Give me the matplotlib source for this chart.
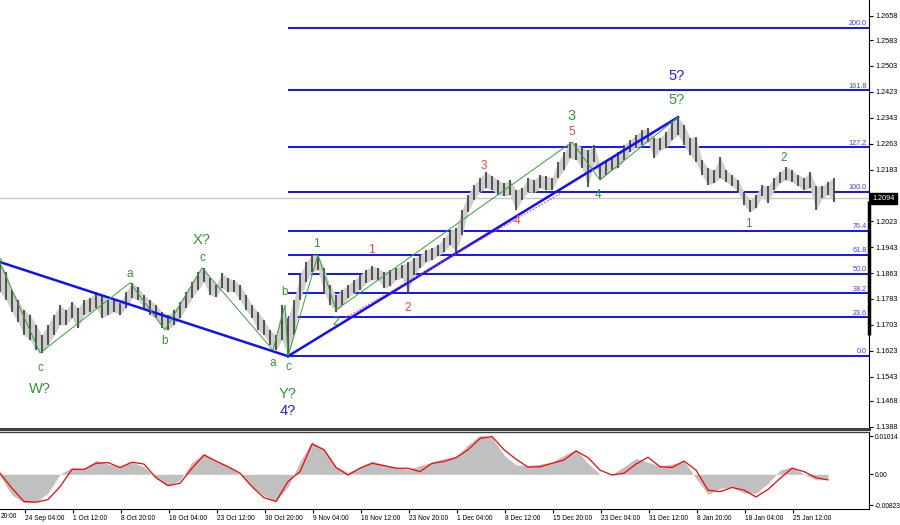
import matplotlib
matplotlib.use("Agg")
import matplotlib.pyplot as plt
import matplotlib.transforms as mtransforms

# one price bar per 4 H4 candles (x unit = one H4 candle)
BAR_STEP = 4
bar_high = [
    1.1894, 1.1867, 1.1811, 1.1780, 1.1749, 1.1734, 1.1703, 1.1672, 1.1703, 1.1734,
    1.1764, 1.1749, 1.1774, 1.1755, 1.1780, 1.1786, 1.1805, 1.1795, 1.1780, 1.1780,
    1.1771, 1.1805, 1.1833, 1.1820, 1.1795, 1.1780, 1.1764, 1.1743, 1.1734, 1.1749,
    1.1774, 1.1805, 1.1836, 1.1867, 1.1879, 1.1848, 1.1826, 1.1863, 1.1848, 1.1842,
    1.1826, 1.1795, 1.1764, 1.1743, 1.1718, 1.1687, 1.1672, 1.1764, 1.1724, 1.1780,
    1.1857, 1.1897, 1.1919, 1.1919, 1.1879, 1.1826, 1.1795, 1.1811, 1.1826, 1.1842,
    1.1857, 1.1873, 1.1885, 1.1879, 1.1867, 1.1873, 1.1879, 1.1888, 1.1897, 1.1910,
    1.1919, 1.1934, 1.1941, 1.1950, 1.1972, 1.1996, 1.2002, 1.2058, 1.2105, 1.2135,
    1.2157, 1.2176, 1.2163, 1.2151, 1.2142, 1.2151, 1.2120, 1.2126, 1.2157, 1.2151,
    1.2166, 1.2163, 1.2157, 1.2206, 1.2237, 1.2268, 1.2265, 1.2250, 1.2243, 1.2259,
    1.2197, 1.2213, 1.2222, 1.2237, 1.2259, 1.2274, 1.2290, 1.2305, 1.2311, 1.2281,
    1.2281, 1.2299, 1.2330, 1.2345, 1.2321, 1.2281, 1.2284, 1.2213, 1.2188, 1.2182,
    1.2222, 1.2182, 1.2166, 1.2151, 1.2114, 1.2089, 1.2105, 1.2135, 1.2132, 1.2157,
    1.2176, 1.2191, 1.2182, 1.2166, 1.2157, 1.2176, 1.2132, 1.2132, 1.2145, 1.2157,
]
bar_low = [
    1.1805, 1.1780, 1.1743, 1.1712, 1.1672, 1.1656, 1.1625, 1.1616, 1.1641, 1.1672,
    1.1703, 1.1703, 1.1724, 1.1693, 1.1734, 1.1743, 1.1755, 1.1724, 1.1734, 1.1743,
    1.1734, 1.1755, 1.1786, 1.1780, 1.1755, 1.1734, 1.1724, 1.1693, 1.1687, 1.1703,
    1.1724, 1.1755, 1.1786, 1.1811, 1.1836, 1.1795, 1.1789, 1.1817, 1.1805, 1.1805,
    1.1780, 1.1749, 1.1724, 1.1687, 1.1672, 1.1641, 1.1625, 1.1656, 1.1606, 1.1672,
    1.1780, 1.1836, 1.1867, 1.1873, 1.1805, 1.1764, 1.1743, 1.1764, 1.1786, 1.1802,
    1.1811, 1.1833, 1.1842, 1.1842, 1.1817, 1.1823, 1.1842, 1.1848, 1.1802, 1.1857,
    1.1879, 1.1897, 1.1904, 1.1916, 1.1928, 1.1950, 1.1928, 1.1981, 1.2052, 1.2089,
    1.2114, 1.2126, 1.2120, 1.2105, 1.2101, 1.2105, 1.2058, 1.2089, 1.2114, 1.2111,
    1.2126, 1.2120, 1.2120, 1.2157, 1.2182, 1.2219, 1.2213, 1.2188, 1.2129, 1.2206,
    1.2151, 1.2166, 1.2182, 1.2188, 1.2213, 1.2237, 1.2250, 1.2259, 1.2268, 1.2219,
    1.2243, 1.2250, 1.2274, 1.2290, 1.2259, 1.2228, 1.2206, 1.2166, 1.2135, 1.2142,
    1.2157, 1.2145, 1.2132, 1.2114, 1.2074, 1.2052, 1.2064, 1.2101, 1.2080, 1.2120,
    1.2142, 1.2151, 1.2145, 1.2132, 1.2120, 1.2126, 1.2058, 1.2095, 1.2105, 1.2083,
]

# MACD panel, one sample per 8 H4 candles
MACD_STEP = 8
macd_hist = [
    -0.0005, -0.0055, -0.0075, -0.0074, -0.0050, 0.0000, 0.0018, 0.0014, 0.0037, 0.0027,
    0.0020, 0.0032, 0.0020, -0.0011, -0.0031, -0.0015, 0.0032, 0.0055, 0.0035, 0.0022,
    0.0000, -0.0033, -0.0057, -0.0072, -0.0033, 0.0034, 0.0087, 0.0067, 0.0020, 0.0005,
    0.0020, 0.0035, 0.0025, 0.0019, 0.0013, 0.0023, 0.0032, 0.0042, 0.0047, 0.0078,
    0.0104, 0.0097, 0.0051, 0.0025, 0.0023, 0.0027, 0.0032, 0.0051, 0.0065, 0.0029,
    0.0000, 0.0000, 0.0020, 0.0042, 0.0032, 0.0022, 0.0027, 0.0035, -0.0011, -0.0053,
    -0.0037, -0.0034, -0.0050, -0.0050, -0.0024, 0.0011, 0.0020, 0.0000, -0.0015, -0.0012,
]
macd_signal = [
    0.0003, -0.0037, -0.0072, -0.0074, -0.0067, -0.0033, 0.0013, 0.0013, 0.0029, 0.0031,
    0.0018, 0.0032, 0.0027, -0.0009, -0.0030, -0.0024, 0.0016, 0.0051, 0.0035, 0.0020,
    0.0003, -0.0033, -0.0062, -0.0072, -0.0019, 0.0007, 0.0080, 0.0065, 0.0018, -0.0002,
    0.0016, 0.0029, 0.0023, 0.0016, 0.0016, 0.0007, 0.0029, 0.0034, 0.0044, 0.0065,
    0.0095, 0.0100, 0.0065, 0.0040, 0.0019, 0.0020, 0.0029, 0.0038, 0.0062, 0.0044,
    0.0011, -0.0002, 0.0003, 0.0027, 0.0045, 0.0020, 0.0018, 0.0035, 0.0011, -0.0042,
    -0.0046, -0.0035, -0.0042, -0.0060, -0.0040, -0.0011, 0.0016, 0.0007, -0.0009, -0.0015,
]

# Fibonacci grid
fib_levels = [0.0, 23.6, 38.2, 50.0, 61.8, 76.4, 100.0, 127.2, 161.8, 200.0]
fib_base = 1.1607
fib_full = 1.2114
fib_start = 192

last_price = 1.2094

price_ticks = [1.2658, 1.2583, 1.2503, 1.2423, 1.2343, 1.2263, 1.2183, 1.2103, 1.2023,
               1.1943, 1.1863, 1.1783, 1.1703, 1.1623, 1.1543, 1.1468, 1.1388]
macd_ticks = [0.01014, 0.0, -0.00823]
macd_tick_labels = ["0.01014", "0.00", "-0.00823"]
date_labels = ["24 Sep 04:00", "1 Oct 12:00", "8 Oct 20:00", "16 Oct 04:00", "23 Oct 12:00",
               "30 Oct 20:00", "9 Nov 04:00", "16 Nov 12:00", "23 Nov 20:00", "1 Dec 04:00",
               "8 Dec 12:00", "15 Dec 20:00", "23 Dec 04:00", "31 Dec 12:00", "8 Jan 20:00",
               "18 Jan 04:00", "25 Jan 12:00"]
DATE_FIRST = 16.7
DATE_EVERY = 32

# wave drawings (candle index, price)
trend_down = [(0, 1.1897), (192, 1.1606)]
trend_up = [(192, 1.1606), (452, 1.2345)]
wave_path = [(0, 1.1894), (26.7, 1.1616), (86.7, 1.1833), (110, 1.1687), (134.7, 1.1879),
             (182, 1.1625), (190, 1.1764), (192, 1.1606), (212, 1.1919), (224, 1.1749),
             (381.3, 1.2268), (400, 1.2151), (452, 1.2345)]
red_dotted = [(230, 1.1724), (373.3, 1.2108)]

green_small = [("b", -1, 1.1897), ("c", 26.7, 1.1570), ("a", 86.7, 1.1860), ("b", 110, 1.1653),
               ("c", 134.7, 1.1910), ("a", 182, 1.1585), ("b", 190, 1.1805), ("c", 192, 1.1573),
               ("1", 210.7, 1.1953), ("2", 224, 1.1712), ("4", 398.7, 1.2104),
               ("1", 498.7, 1.2015), ("2", 522.7, 1.2219)]
green_big = [("W?", 26.7, 1.1505), ("X?", 134.7, 1.1965), ("Y?", 192, 1.1490),
             ("3", 381.3, 1.2349), ("5?", 451.3, 1.2398)]
blue_big = [("4?", 192, 1.1437), ("5?", 451.3, 1.2472)]
red_small = [("1", 247.3, 1.1934), ("2", 272, 1.1755), ("3", 322.7, 1.2194),
             ("4", 344.7, 1.2024), ("5", 381.3, 1.2299)]

XMAX = 579.3
GREEN = "#2f9a2f"
BLUE = "#2020ee"
RED = "#ff4040"
LABEL_FONT = ["Liberation Sans", "DejaVu Sans"]

fig = plt.figure(figsize=(9, 5.25), dpi=100)
ax = fig.add_axes([0, 96 / 525, 869 / 900, 429 / 525])
axm = fig.add_axes([0, 16 / 525, 869 / 900, 77 / 525])

# price bars: soft band under the bar strokes
bar_x = [i * BAR_STEP for i in range(len(bar_high))]
ax.fill_between(bar_x, bar_low, bar_high, color="#cfcfcf", lw=0, zorder=2.5)
ax.vlines(bar_x, bar_low, bar_high, color="#2e2e2e", lw=1.1, zorder=3)

# current price line
ax.axhline(last_price, color="#c8c8c8", lw=1.0, zorder=1)

# fibonacci levels
for lvl in fib_levels:
    p = fib_base + (fib_full - fib_base) * lvl / 100
    ax.hlines(p, fib_start, XMAX, color="#0000ff", lw=1.3, zorder=2)
    ax.text(XMAX - 1.5, p + 0.0002, f"{lvl:.1f}", ha="right", va="bottom",
            fontsize=5.2, color="#4040ff", family=LABEL_FONT, zorder=4)

# wave drawings
for seg in (trend_down, trend_up):
    ax.plot([q[0] for q in seg], [q[1] for q in seg], color="#1010ff", lw=1.8, zorder=4)
ax.plot([q[0] for q in wave_path], [q[1] for q in wave_path], color="#3aa03a", lw=0.7, zorder=4)
ax.plot([q[0] for q in red_dotted], [q[1] for q in red_dotted], color=RED, lw=0.8,
        ls=(0, (1.5, 1.5)), zorder=4)

for txt, x, p in green_small:
    ax.text(x, p, txt, color=GREEN, fontsize=8.5, ha="center", va="center",
            family=LABEL_FONT, zorder=6)
for txt, x, p in green_big:
    ax.text(x, p, txt, color=GREEN, fontsize=10.5, ha="center", va="center",
            family=LABEL_FONT, zorder=6)
for txt, x, p in blue_big:
    ax.text(x, p, txt, color=BLUE, fontsize=10.5, ha="center", va="center",
            family=LABEL_FONT, zorder=6)
for txt, x, p in red_small:
    ax.text(x, p, txt, color=RED, fontsize=8.5, ha="center", va="center",
            family=LABEL_FONT, zorder=6)

ax.set_xlim(0, XMAX)
ax.set_ylim(1.1381, 1.2707)
ax.set_xticks([])
ax.yaxis.tick_right()
ax.set_yticks(price_ticks)
ax.set_yticklabels([f"{t:.4f}" for t in price_ticks])
ax.tick_params(axis="y", length=3, width=0.8, pad=1.5, labelsize=5.2)
for lbl in ax.get_yticklabels():
    lbl.set_family(LABEL_FONT)
for s in ("left", "top"):
    ax.spines[s].set_visible(False)
ax.spines["right"].set_linewidth(0.8)
ax.spines["bottom"].set_color("#404040")
ax.spines["bottom"].set_linewidth(2.2)

# price tag and scroll marker on the price scale
tr = mtransforms.blended_transform_factory(ax.transAxes, ax.transData)
ax.text(1.004, last_price, f"{last_price:.4f}", transform=tr, ha="left", va="center",
        fontsize=5.2, color="white", family=LABEL_FONT, clip_on=False, zorder=10,
        bbox=dict(boxstyle="square,pad=0.3", fc="black", ec="black"))
ax.plot([1.0, 1.0], [1.1672, 1.2085], transform=tr, color="black", lw=2.5,
        solid_capstyle="butt", clip_on=False, zorder=9)

# MACD panel
mx = [i * MACD_STEP for i in range(len(macd_hist))]
axm.fill_between(mx, 0, macd_hist, color="#c0c0c0", lw=0)
axm.plot(mx, macd_signal, color="#ff0000", lw=0.9)
axm.set_xlim(0, XMAX)
axm.set_ylim(-0.0092, 0.0112)
axm.yaxis.tick_right()
axm.set_yticks(macd_ticks)
axm.set_yticklabels(macd_tick_labels)
axm.set_xticks([DATE_FIRST + DATE_EVERY * k for k in range(len(date_labels))])
axm.set_xticklabels(date_labels)
axm.tick_params(axis="both", length=3, width=0.8, pad=1.5, labelsize=4.8)
axm.tick_params(axis="y", labelsize=4.8, pad=1)
for lbl in axm.get_xticklabels():
    lbl.set_ha("left")
    lbl.set_family(LABEL_FONT)
for lbl in axm.get_yticklabels():
    lbl.set_family(LABEL_FONT)
axm.spines["left"].set_visible(False)
axm.spines["top"].set_color("#404040")
axm.spines["top"].set_linewidth(1.0)
axm.spines["right"].set_linewidth(0.8)
axm.spines["bottom"].set_linewidth(0.8)

fig.text(1 / 900, 1 - 517 / 525, "20:00", fontsize=4.8, ha="left", va="center", family=LABEL_FONT)

fig.savefig("out.png", dpi=100, facecolor="white")
